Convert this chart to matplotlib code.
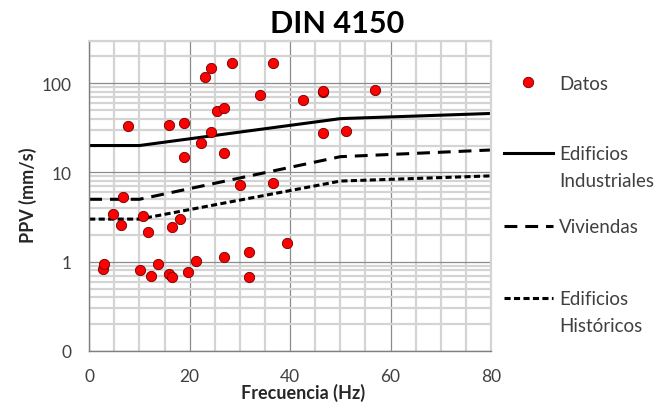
import matplotlib
matplotlib.use("Agg")
import matplotlib.pyplot as plt
from matplotlib.lines import Line2D
from matplotlib.ticker import FixedLocator, LogLocator, NullFormatter, MultipleLocator

plt.rcParams['font.family'] = ['Lato', 'DejaVu Sans']

# measured points (frequency in Hz, peak particle velocity in mm/s)
freq = [2.8, 3.0, 4.7, 6.4, 6.7, 7.8, 10.2, 10.8, 11.8, 12.3, 13.6, 15.8, 15.8,
        16.4, 16.5, 18.0, 18.8, 18.9, 19.6, 21.2, 22.2, 23.1, 24.2, 24.2, 25.5,
        26.8, 26.8, 26.8, 28.4, 30.0, 31.9, 31.9, 34.0, 36.5, 36.5, 39.4, 42.6,
        46.5, 46.6, 46.6, 51.2, 57.0]
ppv = [0.82, 0.94, 3.42, 2.56, 5.26, 33, 0.81, 3.27, 2.17, 0.69, 0.94, 0.72, 34.2,
       2.45, 0.67, 2.98, 36, 14.8, 0.77, 1.03, 21.5, 116, 148, 28.3, 49,
       52, 16.6, 1.14, 168, 7.17, 1.27, 0.68, 74, 168, 7.55, 1.62, 64,
       79, 82, 27.6, 29, 83]

# DIN 4150 limit curves
lim_freq = [0, 10, 50, 100]
lim_industrial = [20, 20, 40, 50]
lim_viviendas = [5, 5, 15, 20]
lim_historicos = [3, 3, 8, 10]

W, H = 659, 406
fig = plt.figure(figsize=(W / 100, H / 100), dpi=100)
ax = fig.add_axes([89.2 / W, 1 - 352 / H, (491 - 89.2) / W, (352 - 41.5) / H])

ax.set_yscale('log')
ax.set_xlim(0, 80)
ax.set_ylim(0.1, 300)

# grid: light minor lines, darker major lines
ax.xaxis.set_major_locator(MultipleLocator(20))
ax.xaxis.set_minor_locator(MultipleLocator(5))
ax.yaxis.set_major_locator(FixedLocator([0.1, 1, 10, 100]))
ax.yaxis.set_minor_locator(LogLocator(base=10, subs=range(2, 10)))
ax.yaxis.set_minor_formatter(NullFormatter())
ax.set_yticklabels(['0', '1', '10', '100'])
ax.grid(which='minor', color='#d4d4d4', lw=1.6)
ax.grid(which='major', color='#8c8c8c', lw=0.9)
ax.set_axisbelow(True)
ax.tick_params(which='both', length=0, labelsize=12.5, colors='#404040')
ax.tick_params(axis='x', pad=12)
ax.tick_params(axis='y', pad=13)

for side in ['left', 'bottom']:
    ax.spines[side].set_color('#7f7f7f')
    ax.spines[side].set_linewidth(1.0)
for side in ['top', 'right']:
    ax.spines[side].set_color('#d4d4d4')
    ax.spines[side].set_linewidth(1.6)

ax.plot(lim_freq, lim_industrial, color='black', lw=2.2, solid_capstyle='butt')
ax.plot(lim_freq, lim_viviendas, color='black', lw=2.2, dashes=(4.2, 2.6))
ax.plot(lim_freq, lim_historicos, color='black', lw=2.2, dashes=(2.0, 1.1))
ax.scatter(freq, ppv, s=55, color='#ff0000', edgecolors='#6b0000', linewidths=0.6, zorder=5)

fig.text(337 / W, 1 - 24 / H, 'DIN 4150', ha='center', va='center',
         fontsize=22, fontweight='bold')
fig.text(303 / W, 1 - 393 / H, 'Frecuencia (Hz)', ha='center', va='center',
         fontsize=13, fontweight='bold', color='#262626')
fig.text(28 / W, 1 - 195 / H, 'PPV (mm/s)', ha='center', va='center',
         rotation=90, fontsize=13, fontweight='bold', color='#262626')

# legend entries, one per slot; a second text line sits below when needed
leg_size = 13.5
entries = [
    (Line2D([], [], ls='none', marker='o', ms=7.5, mfc='#ff0000', mec='#6b0000', mew=0.6),
     'Datos', None, 84),
    (Line2D([], [], color='black', lw=2.2), 'Edificios', 'Industriales', 155),
    (Line2D([], [], color='black', lw=2.2, dashes=(4.2, 2.6)), 'Viviendas', None, 228),
    (Line2D([], [], color='black', lw=2.2, dashes=(2.0, 1.1)), 'Edificios', 'Históricos', 300),
]
legends = []
for handle, label, second, ypix in entries:
    leg = fig.legend([handle], [label], loc='center left', bbox_to_anchor=(504 / W, 1 - ypix / H),
                     frameon=False, fontsize=leg_size, handlelength=2.6, handletextpad=0.35,
                     borderpad=0, borderaxespad=0, labelcolor='#404040')
    legends.append((leg, second, ypix))

fig.canvas.draw()
renderer = fig.canvas.get_renderer()
for leg, second, ypix in legends:
    if second:
        x0 = leg.get_texts()[0].get_window_extent(renderer).x0
        fig.text(x0 / W, 1 - (ypix + 27) / H, second, ha='left', va='center',
                 fontsize=leg_size, color='#404040')

fig.savefig('out.png', dpi=100)
